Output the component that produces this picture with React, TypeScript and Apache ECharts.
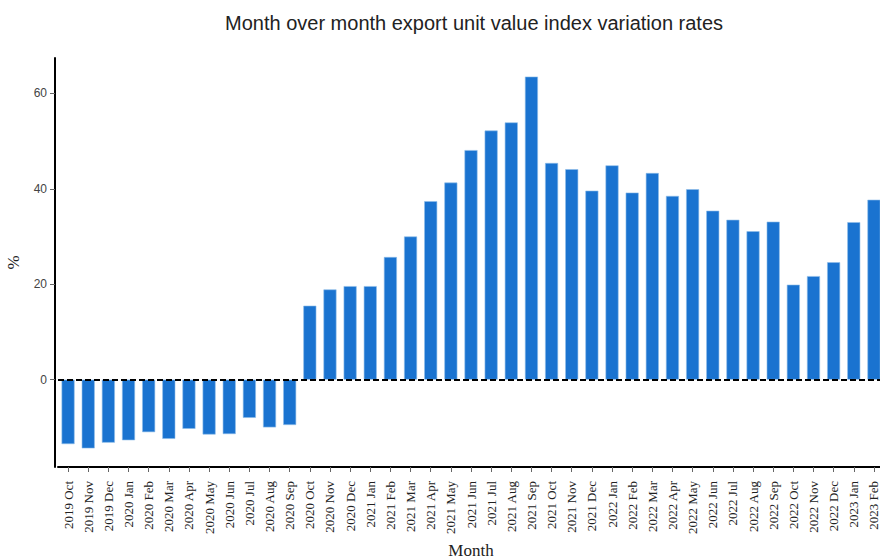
import React, { useEffect, useRef } from "react";
import * as echarts from "echarts";

const months: string[] = [
  "2019 Oct", "2019 Nov", "2019 Dec",
  "2020 Jan", "2020 Feb", "2020 Mar", "2020 Apr", "2020 May", "2020 Jun",
  "2020 Jul", "2020 Aug", "2020 Sep", "2020 Oct", "2020 Nov", "2020 Dec",
  "2021 Jan", "2021 Feb", "2021 Mar", "2021 Apr", "2021 May", "2021 Jun",
  "2021 Jul", "2021 Aug", "2021 Sep", "2021 Oct", "2021 Nov", "2021 Dec",
  "2022 Jan", "2022 Feb", "2022 Mar", "2022 Apr", "2022 May", "2022 Jun",
  "2022 Jul", "2022 Aug", "2022 Sep", "2022 Oct", "2022 Nov", "2022 Dec",
  "2023 Jan", "2023 Feb",
];

const rates: number[] = [
  -13.5, -14.4, -13.2,
  -12.7, -11.0, -12.4, -10.3, -11.5, -11.4,
  -8.0, -10.0, -9.5, 15.5, 18.9, 19.6,
  19.6, 25.7, 30.0, 37.4, 41.3, 48.1,
  52.2, 53.9, 63.5, 45.4, 44.1, 39.6,
  44.9, 39.2, 43.3, 38.5, 39.9, 35.4,
  33.5, 31.1, 33.1, 19.9, 21.7, 24.6,
  33.0, 37.7,
];

const yTicks: number[] = [0, 20, 40, 60];

const TITLE = "Month over month export unit value index variation rates";

export default function App() {
  const ref = useRef<HTMLDivElement>(null);

  useEffect(() => {
    if (!ref.current) return;
    document.body.style.margin = "0";
    const chart = echarts.init(ref.current, undefined, { renderer: "svg" });
    chart.setOption({
      animation: false,
      backgroundColor: "#ffffff",
      title: {
        text: TITLE,
        left: 220,
        top: 8,
        textStyle: {
          fontFamily: "Liberation Sans, Arial, sans-serif",
          fontSize: 20,
          fontWeight: "normal",
          color: "#222",
        },
      },
      grid: {
        left: 58,
        right: -4,
        top: 58,
        bottom: 93,
        containLabel: false,
        outerBoundsMode: "none",
      },
      xAxis: {
        type: "category",
        data: months,
        boundaryGap: true,
        name: "Month",
        nameLocation: "middle",
        nameGap: 73,
        nameTextStyle: {
          fontFamily: "Liberation Serif, Times New Roman, serif",
          fontSize: 17,
          color: "#222",
        },
        axisLine: { show: true, onZero: false, lineStyle: { color: "#000", width: 2 } },
        axisTick: { show: true, alignWithLabel: true, length: 5, lineStyle: { color: "#666" } },
        axisLabel: {
          rotate: 90,
          interval: 0,
          margin: 14,
          fontFamily: "Liberation Serif, Times New Roman, serif",
          fontSize: 13,
          color: "#222",
        },
        splitLine: { show: false },
      },
      yAxis: {
        type: "value",
        min: -18.3,
        max: 67.4,
        offset: 3,
        name: "%",
        nameLocation: "middle",
        nameGap: 33,
        nameRotate: 90,
        nameTextStyle: {
          fontFamily: "Liberation Serif, Times New Roman, serif",
          fontSize: 17,
          color: "#222",
        },
        axisLine: { show: true, lineStyle: { color: "#000", width: 2 } },
        axisTick: { show: true, length: 5, customValues: yTicks, lineStyle: { color: "#666" } },
        axisLabel: {
          customValues: yTicks,
          margin: 8,
          fontFamily: "Liberation Sans, Arial, sans-serif",
          fontSize: 12,
          color: "#444",
        },
        splitLine: { show: false },
      },
      series: [
        {
          type: "bar",
          data: rates,
          barWidth: 13,
          itemStyle: { color: "#1a73d0", borderColor: "#8fbdea", borderWidth: 0.6 },
          markLine: {
            silent: true,
            symbol: "none",
            label: { show: false },
            lineStyle: { color: "#000", type: [6, 3], width: 2 },
            data: [{ yAxis: 0 }],
          },
        },
      ],
    });
    return () => chart.dispose();
  }, []);

  return (
    <div
      ref={ref}
      style={{ position: "fixed", left: 0, top: 0, width: 880, height: 560, background: "#fff" }}
    />
  );
}
